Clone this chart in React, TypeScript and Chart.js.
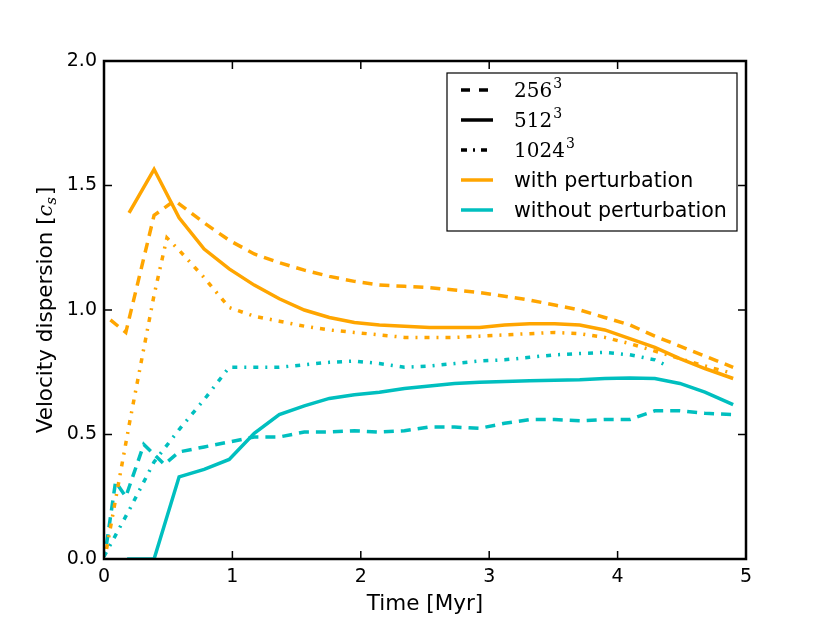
import { useEffect, useRef } from "react";
import { Chart, registerables } from "chart.js";
Chart.register(...registerables);

const ORANGE = "#FFA500";
const CYAN = "#00BFBF";

const xTicks = [0, 1, 2, 3, 4, 5];
const yTicks = [0, 0.5, 1.0, 1.5, 2.0];

// with perturbation
const t256With = [0.05, 0.17, 0.39, 0.55, 0.78, 0.975, 1.17, 1.365, 1.56, 1.755, 1.95, 2.145, 2.34, 2.535, 2.73, 2.925, 3.12, 3.315, 3.51, 3.705, 3.9, 4.095, 4.29, 4.485, 4.68, 4.9];
const v256With = [0.96, 0.91, 1.38, 1.44, 1.35, 1.28, 1.225, 1.19, 1.16, 1.135, 1.115, 1.1, 1.095, 1.09, 1.08, 1.07, 1.055, 1.04, 1.02, 1.0, 0.97, 0.94, 0.895, 0.855, 0.815, 0.77];
const t512With = [0.195, 0.39, 0.585, 0.78, 0.975, 1.17, 1.365, 1.56, 1.755, 1.95, 2.145, 2.34, 2.535, 2.73, 2.925, 3.12, 3.315, 3.51, 3.705, 3.9, 4.095, 4.29, 4.485, 4.68, 4.9];
const v512With = [1.39, 1.565, 1.37, 1.245, 1.165, 1.1, 1.045, 1.0, 0.97, 0.95, 0.94, 0.935, 0.93, 0.93, 0.93, 0.94, 0.945, 0.945, 0.94, 0.92, 0.885, 0.85, 0.805, 0.765, 0.725];
const t1024With = [0.02, 0.2, 0.39, 0.49, 0.585, 0.78, 0.975, 1.17, 1.365, 1.56, 1.755, 1.95, 2.145, 2.34, 2.535, 2.73, 2.925, 3.12, 3.315, 3.51, 3.705, 3.9, 4.095, 4.29, 4.485, 4.68, 4.9];
const v1024With = [0.04, 0.55, 1.06, 1.29, 1.24, 1.13, 1.01, 0.975, 0.955, 0.935, 0.92, 0.91, 0.9, 0.89, 0.89, 0.89, 0.895, 0.9, 0.905, 0.91, 0.905, 0.89, 0.865, 0.835, 0.805, 0.775, 0.745];

// without perturbation
const t256Without = [0.02, 0.09, 0.17, 0.31, 0.47, 0.585, 0.78, 0.975, 1.17, 1.365, 1.56, 1.755, 1.95, 2.145, 2.34, 2.535, 2.73, 2.925, 3.12, 3.315, 3.51, 3.705, 3.9, 4.095, 4.29, 4.485, 4.68, 4.9];
const v256Without = [0.06, 0.31, 0.25, 0.46, 0.38, 0.43, 0.45, 0.47, 0.49, 0.49, 0.51, 0.51, 0.515, 0.51, 0.515, 0.53, 0.53, 0.525, 0.545, 0.56, 0.56, 0.555, 0.56, 0.56, 0.595, 0.595, 0.585, 0.58];
const t512Without = [0.18, 0.39, 0.585, 0.78, 0.975, 1.17, 1.365, 1.56, 1.755, 1.95, 2.145, 2.34, 2.535, 2.73, 2.925, 3.12, 3.315, 3.51, 3.705, 3.9, 4.095, 4.29, 4.485, 4.68, 4.9];
const v512Without = [0, 0, 0.33, 0.36, 0.4, 0.505, 0.58, 0.615, 0.645, 0.66, 0.67, 0.685, 0.695, 0.705, 0.71, 0.713, 0.716, 0.718, 0.72, 0.725, 0.727, 0.725, 0.705, 0.67, 0.62];
const t1024Without = [0.0, 0.2, 0.39, 0.585, 0.78, 0.975, 1.17, 1.365, 1.56, 1.755, 1.95, 2.145, 2.34, 2.535, 2.73, 2.925, 3.12, 3.315, 3.51, 3.705, 3.9, 4.095, 4.29, 4.37];
const v1024Without = [0.01, 0.2, 0.39, 0.52, 0.64, 0.77, 0.77, 0.77, 0.78, 0.79, 0.795, 0.785, 0.77, 0.775, 0.785, 0.795, 0.8, 0.81, 0.82, 0.825, 0.83, 0.82, 0.8, 0.78];

const resLabels = ["256", "512", "1024"];
const caseLabels = ["with perturbation", "without perturbation"];

const DASH = [10, 7];
const DASHDOT = [5, 7, 2, 7];
const SOLID: number[] = [];
const LW = 3.5;

const pts = (t: number[], v: number[]) => t.map((x, i) => ({ x, y: v[i] }));

const ds = (t: number[], v: number[], color: string, dash: number[]) => ({
  data: pts(t, v),
  borderColor: color,
  borderWidth: LW,
  borderDash: dash,
  borderCapStyle: "butt" as const,
  pointRadius: 0,
  fill: false,
  tension: 0,
});

const SANS = "'DejaVu Sans', sans-serif";
const SERIF = "'DejaVu Serif', serif";

const decor = {
  id: "decor",
  afterDraw(chart: any) {
    const { ctx, chartArea, scales } = chart;
    const { left, right, top, bottom } = chartArea;
    const x = scales.x;
    const y = scales.y;
    ctx.save();
    // ticks (inward, all four sides)
    ctx.strokeStyle = "#000";
    ctx.lineWidth = 1.5;
    ctx.setLineDash([]);
    const tl = 8;
    for (const v of xTicks) {
      const px = x.getPixelForValue(v);
      ctx.beginPath();
      ctx.moveTo(px, bottom);
      ctx.lineTo(px, bottom - tl);
      ctx.moveTo(px, top);
      ctx.lineTo(px, top + tl);
      ctx.stroke();
    }
    for (const v of yTicks) {
      const py = y.getPixelForValue(v);
      ctx.beginPath();
      ctx.moveTo(left, py);
      ctx.lineTo(left + tl, py);
      ctx.moveTo(right, py);
      ctx.lineTo(right - tl, py);
      ctx.stroke();
    }
    // frame
    ctx.lineWidth = 2.5;
    ctx.strokeRect(left, top, right - left, bottom - top);

    // legend
    const bx = 447, by = 73, bw = 290, bh = 158;
    ctx.fillStyle = "#fff";
    ctx.fillRect(bx, by, bw, bh);
    ctx.lineWidth = 1.2;
    ctx.strokeStyle = "#000";
    ctx.strokeRect(bx, by, bw, bh);
    const rows = [90, 120, 150, 180, 210];
    const styles: [string, number[]][] = [
      ["#000", [9, 9]],
      ["#000", SOLID],
      ["#000", [6, 6, 2, 6]],
      [ORANGE, SOLID],
      [CYAN, SOLID],
    ];
    rows.forEach((ry, i) => {
      ctx.strokeStyle = styles[i][0];
      ctx.setLineDash(styles[i][1]);
      ctx.lineWidth = LW;
      ctx.lineCap = "butt";
      ctx.beginPath();
      ctx.moveTo(461, ry);
      ctx.lineTo(493, ry);
      ctx.stroke();
    });
    ctx.setLineDash([]);
    ctx.fillStyle = "#000";
    ctx.textBaseline = "alphabetic";
    ctx.textAlign = "left";
    resLabels.forEach((lab, i) => {
      const ry = rows[i] + 7;
      ctx.font = `20px ${SERIF}`;
      ctx.fillText(lab, 514, ry);
      const w = ctx.measureText(lab).width;
      ctx.font = `14px ${SERIF}`;
      ctx.fillText("3", 514 + w + 1, ry - 9);
    });
    caseLabels.forEach((lab, i) => {
      ctx.font = `20.6px ${SANS}`;
      ctx.fillText(lab, 514, rows[3 + i] + 7);
    });

    // x title
    ctx.font = `21.5px ${SANS}`;
    ctx.textAlign = "center";
    ctx.textBaseline = "middle";
    ctx.fillText("Time [Myr]", (left + right) / 2, 604);

    // y title with math c_s
    ctx.save();
    ctx.translate(45, (top + bottom) / 2);
    ctx.rotate(-Math.PI / 2);
    ctx.textAlign = "left";
    ctx.textBaseline = "alphabetic";
    const p1 = "Velocity dispersion [";
    const p4 = "]";
    ctx.font = `21.5px ${SANS}`;
    const w1 = ctx.measureText(p1).width;
    const w4 = ctx.measureText(p4).width;
    ctx.font = `italic 21px ${SERIF}`;
    const w2 = ctx.measureText("c").width;
    ctx.font = `italic 15px ${SERIF}`;
    const w3 = ctx.measureText("s").width;
    const total = w1 + w2 + w3 + w4 + 2;
    let cx = -total / 2;
    const base = 7;
    ctx.font = `21.5px ${SANS}`;
    ctx.fillText(p1, cx, base);
    cx += w1;
    ctx.font = `italic 21px ${SERIF}`;
    ctx.fillText("c", cx, base);
    cx += w2;
    ctx.font = `italic 15px ${SERIF}`;
    ctx.fillText("s", cx, base + 4);
    cx += w3 + 2;
    ctx.font = `21.5px ${SANS}`;
    ctx.fillText(p4, cx, base);
    ctx.restore();

    ctx.restore();
  },
};

export default function App() {
  const ref = useRef<HTMLCanvasElement | null>(null);
  useEffect(() => {
    if (!ref.current) return;
    const chart = new Chart(ref.current, {
      type: "line",
      data: {
        datasets: [
          ds(t256With, v256With, ORANGE, DASH),
          ds(t512With, v512With, ORANGE, SOLID),
          ds(t1024With, v1024With, ORANGE, DASHDOT),
          ds(t256Without, v256Without, CYAN, DASH),
          ds(t512Without, v512Without, CYAN, SOLID),
          ds(t1024Without, v1024Without, CYAN, DASHDOT),
        ],
      },
      options: {
        animation: false,
        responsive: false,
        devicePixelRatio: 1,
        layout: { padding: { left: 0, right: 84, top: 61, bottom: 0 } },
        plugins: { legend: { display: false }, tooltip: { enabled: false } },
        scales: {
          x: {
            type: "linear",
            min: 0,
            max: 5,
            afterFit: (s: any) => {
              s.height = 64;
            },
            afterBuildTicks: (s: any) => {
              s.ticks = xTicks.map((v) => ({ value: v }));
            },
            ticks: {
              color: "#000",
              font: { family: "DejaVu Sans", size: 19 },
              padding: 7,
              maxRotation: 0,
              callback: (v: any) => String(v),
            },
            grid: { display: false, drawTicks: false },
            border: { display: false },
          },
          y: {
            type: "linear",
            min: 0,
            max: 2,
            afterFit: (s: any) => {
              s.width = 104;
            },
            afterBuildTicks: (s: any) => {
              s.ticks = yTicks.map((v) => ({ value: v }));
            },
            ticks: {
              color: "#000",
              font: { family: "DejaVu Sans", size: 19 },
              padding: 7,
              callback: (v: any) => Number(v).toFixed(1),
            },
            grid: { display: false, drawTicks: false },
            border: { display: false },
          },
        },
      },
      plugins: [decor],
    });
    return () => chart.destroy();
  }, []);
  return (
    <div style={{ position: "absolute", left: 0, top: 0, width: 830, height: 623, background: "#fff" }}>
      <canvas ref={ref} width={830} height={623} style={{ width: 830, height: 623 }} />
    </div>
  );
}
